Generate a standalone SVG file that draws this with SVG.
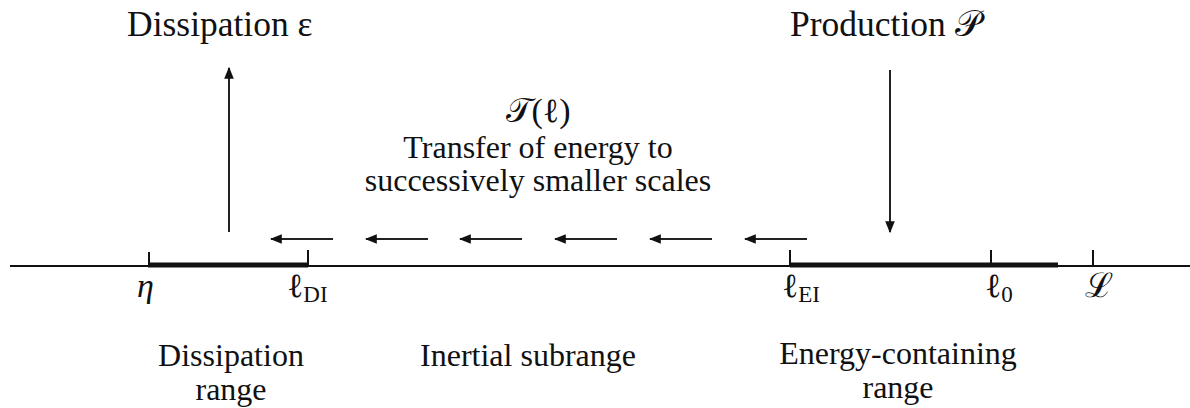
<svg xmlns="http://www.w3.org/2000/svg" width="1190" height="408" viewBox="0 0 1190 408">
<style>
text{font-family:"Liberation Serif","Times New Roman",serif;fill:#111;font-size:34px}
.big{font-size:35.5px}
.two{font-size:32px}
.m{text-anchor:middle}
.it{font-style:italic}
.sub{font-size:23px}
.ax{stroke:#111;stroke-width:2;fill:none}
.bar{stroke:#111;stroke-width:5;fill:none}
.tk{stroke:#111;stroke-width:2;fill:none}
.ar{stroke:#222;stroke-width:2;fill:none;marker-end:url(#ah)}
</style>
<defs>
<marker id="ah" viewBox="0 0 10 10" refX="9" refY="5" markerWidth="6" markerHeight="6" markerUnits="strokeWidth" orient="auto">
<path d="M0,1 L10,5 L0,9 Z" fill="#111"/>
</marker>
</defs>
<g id="axis">
<line class="ax" x1="10" y1="266" x2="1190" y2="266"/>
<line class="bar" x1="148" y1="265" x2="308" y2="265"/>
<line class="bar" x1="790" y1="265" x2="1058" y2="265"/>
<line class="tk" x1="149" y1="252" x2="149" y2="266"/>
<line class="tk" x1="308" y1="250" x2="308" y2="266"/>
<line class="tk" x1="790" y1="250" x2="790" y2="266"/>
<line class="tk" x1="991" y1="250" x2="991" y2="266"/>
<line class="tk" x1="1093" y1="250" x2="1093" y2="266"/>
</g>
<g id="connectors">
<line class="ar" x1="229" y1="232" x2="229" y2="68"/>
<line class="ar" x1="890" y1="70" x2="890" y2="232"/>
<line class="ar" x1="333" y1="239" x2="271" y2="239"/>
<line class="ar" x1="428" y1="239" x2="366" y2="239"/>
<line class="ar" x1="522" y1="239" x2="460" y2="239"/>
<line class="ar" x1="617" y1="239" x2="555" y2="239"/>
<line class="ar" x1="712" y1="239" x2="650" y2="239"/>
<line class="ar" x1="807" y1="239" x2="745" y2="239"/>
</g>
<g id="dissipation-label"><text class="big" x="127" y="36">Dissipation ε</text></g>
<g id="production-label"><text class="big" x="790" y="36">Production 𝒫</text></g>
<g id="transfer-label">
<text class="m" x="538" y="122">𝒯(ℓ)</text>
<text class="m two" x="538" y="158">Transfer of energy to</text>
<text class="m two" x="538" y="191">successively smaller scales</text>
</g>
<g id="scale-labels">
<text class="it" x="137" y="297">η</text>
<text x="287" y="297">ℓ<tspan class="sub" dy="5">DI</tspan></text>
<text x="782" y="297">ℓ<tspan class="sub" dy="5">EI</tspan></text>
<text x="985" y="297">ℓ<tspan class="sub" dy="5">0</tspan></text>
<text x="1085" y="297">ℒ</text>
</g>
<g id="dissipation-range">
<text class="m two" x="231" y="366">Dissipation</text>
<text class="m two" x="231" y="400">range</text>
</g>
<g id="inertial-subrange"><text class="m two" x="528" y="366">Inertial subrange</text></g>
<g id="energy-range">
<text class="m two" x="898" y="364">Energy-containing</text>
<text class="m two" x="898" y="398">range</text>
</g>
</svg>
